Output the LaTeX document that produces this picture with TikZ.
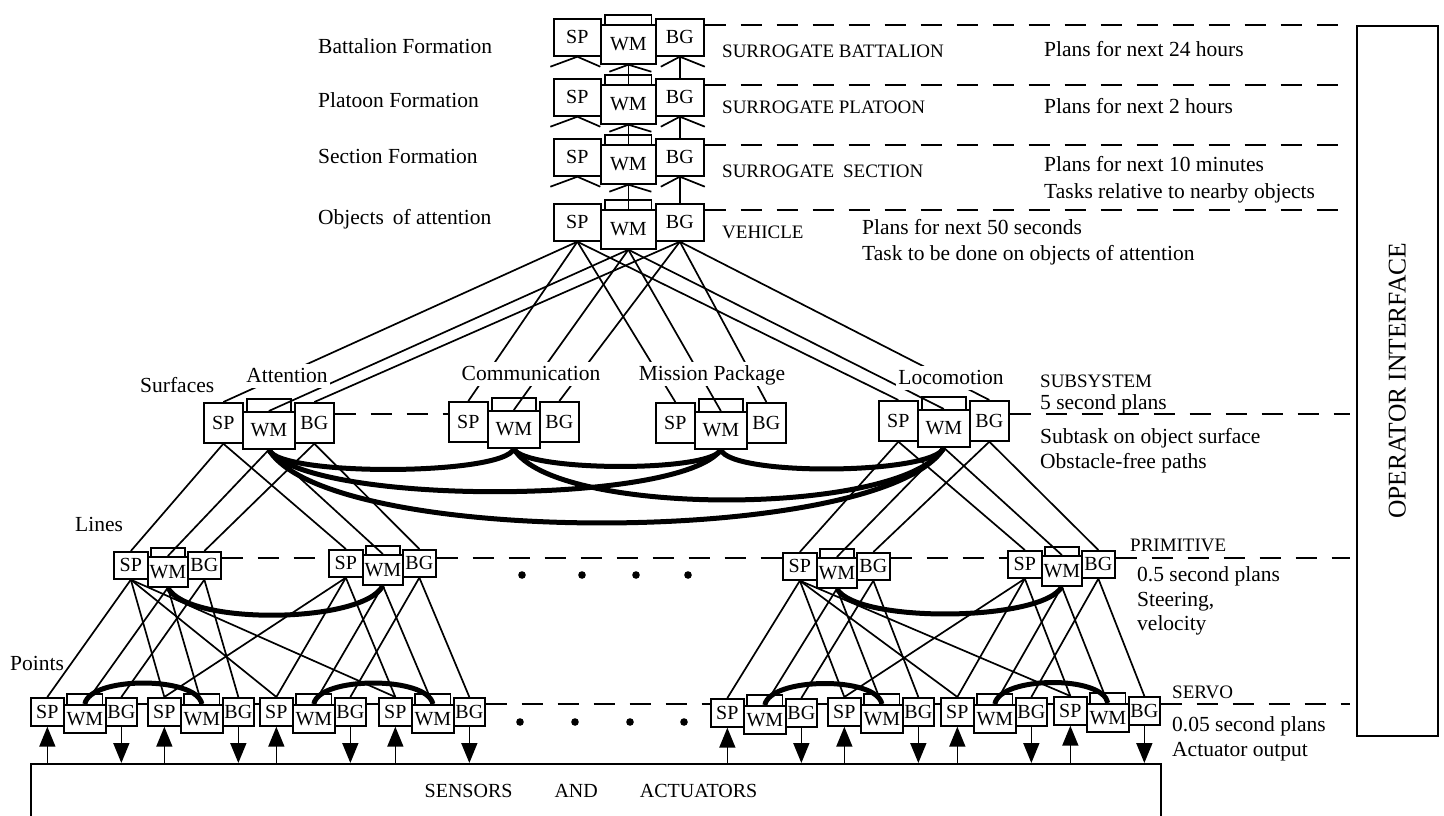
\documentclass[tikz,border=0pt]{standalone}
\usepackage{fontspec}
\setmainfont{Liberation Serif}
\usetikzlibrary{arrows.meta}
\pgfdeclarelayer{back}
\pgfdeclarelayer{front}
\pgfsetlayers{back,main,front}
% #1 name, #2 x, #3 y (top of SP), #4 SP width, #5 SP/BG height, #6 WM width, #7 WM offset, #8 WM height, #9 BG width
\newcommand{\rcsunit}[9]{%
  \begin{pgfonlayer}{back}
    \node[tabbox, minimum width={0.84*#6}, minimum height={#7+4}] (#1-tab) at ({#2+#4+0.08*#6},{#3-4}) {};
  \end{pgfonlayer}
  \begin{pgfonlayer}{front}
    \node[ubox, minimum width=#4, minimum height=#5] (#1-sp) at (#2,#3) {SP};
    \node[ubox, minimum width=#9, minimum height=#5] (#1-bg) at ({#2+#4+#6},#3) {BG};
    \node[ubox, minimum width=#6, minimum height=#8] (#1-wm) at ({#2+#4},{#3+#7}) {WM};
  \end{pgfonlayer}}
\begin{document}
\begin{tikzpicture}[x=1pt, y=-1pt,
  ubox/.style={draw, line width=1.7pt, fill=white, inner sep=0pt, anchor=north west, font=\fontsize{20}{20}\selectfont},
  tabbox/.style={draw, line width=1.7pt, fill=white, inner sep=0pt, anchor=north west},
  conn/.style={line width=1.7pt},
  thickarc/.style={line width=5pt},
  dashline/.style={line width=1.7pt, dash pattern=on 21pt off 15pt},
  lbl/.style={inner sep=0pt, anchor=west, font=\fontsize{21.5}{24}\selectfont, text height=16pt, text depth=4pt},
  caps/.style={inner sep=0pt, anchor=west, font=\fontsize{19}{21}\selectfont, text height=13pt, text depth=0pt},
  wlbl/.style={lbl, anchor=center, fill=white, inner sep=2pt},
  arr/.style={line width=1.7pt, -{Triangle[length=20pt,width=16pt]}}
]
\useasboundingbox (0,0) rectangle (1444,815);

% ---------- units ----------
\rcsunit{u1}{553}{18}{47}{37}{55}{6}{39}{48}
\rcsunit{u2}{553}{78}{47}{37}{55}{6}{39}{48}
\rcsunit{u3}{553}{138}{47}{37}{55}{6}{39}{48}
\rcsunit{u4}{553}{203}{47}{37}{55}{6}{39}{48}

\rcsunit{att}{203}{402}{39}{40}{52}{9}{37}{39}
\rcsunit{com}{448}{401}{39}{40}{52}{9}{37}{39}
\rcsunit{mp}{655}{402}{39}{40}{52}{9}{37}{39}
\rcsunit{loc}{878}{400}{39}{40}{52}{9}{37}{39}

\rcsunit{p1}{113}{551}{34}{27}{40}{5}{30}{33}
\rcsunit{p2}{328}{549}{34}{27}{40}{5}{30}{33}
\rcsunit{p3}{782}{552}{34}{27}{40}{5}{30}{33}
\rcsunit{p4}{1007}{550}{34}{27}{40}{5}{30}{33}

\rcsunit{s1}{30}{697}{33}{28}{42}{7}{28}{31}
\rcsunit{s2}{147}{697}{33}{28}{42}{7}{28}{31}
\rcsunit{s3}{259}{697}{33}{28}{42}{7}{28}{31}
\rcsunit{s4}{378}{697}{33}{28}{42}{7}{28}{31}
\rcsunit{s5}{710}{698}{33}{28}{42}{7}{28}{31}
\rcsunit{s6}{827}{697}{33}{28}{42}{7}{28}{31}
\rcsunit{s7}{940}{697}{33}{28}{42}{7}{28}{31}
\rcsunit{s8}{1053}{696}{33}{28}{42}{7}{28}{31}

% ---------- boxes ----------
\node[draw, line width=1.7pt, inner sep=0pt, anchor=north west, minimum width=81, minimum height=710] (oi) at (1356,25) {};
\node[rotate=90, font=\fontsize{25.5}{27}\selectfont, inner sep=0pt] (oitxt) at (oi.center) {OPERATOR INTERFACE};
\node[draw, line width=1.7pt, inner sep=0pt, anchor=north west, minimum width=1130, minimum height=60] (sens) at (30,763) {};
\node[font=\fontsize{20}{22}\selectfont, inner sep=0pt] (senstxt) at (591,791) {SENSORS\hspace{42pt}AND\hspace{42pt}ACTUATORS};

% ---------- dashed level lines ----------
\draw[dashline] (u1-bg.east |- 0,25) -- (1350,25);
\draw[dashline] (u2-bg.east |- 0,85) -- (1350,85);
\draw[dashline] (u3-bg.east |- 0,145) -- (1350,145);
\draw[dashline] (u4-bg.east |- 0,210) -- (1350,210);
\draw[dashline] (att-bg.east |- 0,414) -- (com-sp.west |- 0,414);
\draw[dashline] (loc-bg.east |- 0,414) -- (1350,414);
\draw[dashline] (p1-bg.east |- 0,558) -- (p2-sp.west |- 0,558);
\draw[dashline] (p2-bg.east |- 0,558) -- (p3-sp.west |- 0,558);
\draw[dashline] (p3-bg.east |- 0,558) -- (p4-sp.west |- 0,558);
\draw[dashline] (p4-bg.east |- 0,558) -- (1350,558);
\foreach \a/\b in {s1/s2,s2/s3,s3/s4,s4/s5,s5/s6,s6/s7,s7/s8}
  \draw[dashline] (\a-bg.east |- 0,704) -- (\b-sp.west |- 0,704);
\draw[dashline] (s8-bg.east |- 0,704) -- (1350,704);

% ---------- top chain ----------
\foreach \a/\b in {u1/u2,u2/u3,u3/u4} {
  \draw[conn] (\a-wm.south) -- (\b-wm.north);
  \draw[conn] (\a-bg.south) -- (\b-bg.north);
  \draw[conn] (\a-sp.south) -- ++(-27,10) (\a-sp.south) -- ++(23,10);
  \draw[conn] (\a-wm.south) -- ++(-19,7) (\a-wm.south) -- ++(23,7);
  \draw[conn] (\a-bg.south) -- ++(-19,10) (\a-bg.south) -- ++(25,10);
}

% ---------- vehicle to subsystems ----------
\foreach \s in {att,com,mp,loc} {
  \draw[conn] (u4-sp.south) -- (\s-sp.north);
  \draw[conn] (u4-wm.south) -- (\s-wm.north);
  \draw[conn] (u4-bg.south) -- (\s-bg.north);
}

% ---------- subsystems to primitives ----------
\foreach \s/\p in {att/p1,att/p2,loc/p3,loc/p4} {
  \draw[conn] (\s-sp.south) -- (\p-sp.north);
  \draw[conn] (\s-wm.south) -- (\p-wm.north);
  \draw[conn] (\s-bg.south) -- (\p-bg.north);
}

% ---------- primitives to servos ----------
\foreach \p/\s in {p1/s1,p1/s2,p1/s3,p1/s4,p2/s2,p2/s3,p2/s4,p3/s5,p3/s6,p3/s7,p3/s8,p4/s6,p4/s7,p4/s8}
  \draw[conn] (\p-sp.south) -- (\s-sp.north);
\foreach \p/\s in {p1/s1,p1/s2,p2/s3,p2/s4,p3/s5,p3/s6,p4/s7,p4/s8} {
  \draw[conn] (\p-wm.south) -- (\s-wm.north);
  \draw[conn] (\p-bg.south) -- (\s-bg.north);
}

% ---------- thick WM arcs ----------
\draw[thickarc] (att-wm.south) .. controls +(10,27) and +(-10,27) .. (com-wm.south);
\draw[thickarc] (com-wm.south) .. controls +(10,23) and +(-10,23) .. (mp-wm.south);
\draw[thickarc] (mp-wm.south) .. controls +(10,27) and +(-10,27) .. (loc-wm.south);
\draw[thickarc] (att-wm.south) .. controls +(40,56) and +(-40,56) .. (mp-wm.south);
\draw[thickarc] (com-wm.south) .. controls +(40,69) and +(-40,69) .. (loc-wm.south);
\draw[thickarc] (att-wm.south) .. controls +(60,99) and +(-60,99) .. (loc-wm.south);
\draw[thickarc] (p1-wm.south) .. controls +(20,38) and +(-20,38) .. (p2-wm.south);
\draw[thickarc] (p3-wm.south) .. controls +(20,35) and +(-20,35) .. (p4-wm.south);
\foreach \a/\b in {s1/s2,s3/s4,s5/s6,s7/s8}
  \draw[thickarc] (\a-wm.north) .. controls +(5,-28) and +(-5,-28) .. (\b-wm.north);

% ---------- servo arrows ----------
\foreach \s in {s1,s2,s3,s4,s5,s6,s7,s8} {
  \draw[arr] (\s-sp.south |- sens.north) -- (\s-sp.south);
  \draw[arr] (\s-bg.south) -- (\s-bg.south |- sens.north);
}

% ---------- ellipses ----------
\foreach \x in {522,582,636,688} \fill (\x,575) circle (3.8);
\foreach \x in {520,575,630,684} \fill (\x,722) circle (3.8);

% ---------- subsystem labels (mask lines) ----------
\node[wlbl] (latt) at (287,376) {Attention};
\node[wlbl] (lcom) at (531,374) {Communication};
\node[wlbl] (lmp) at (712,374) {Mission Package};
\node[wlbl] (lloc) at (951,378) {Locomotion};
\node[lbl] (lsurf) at (140,386) {Surfaces};
\node[lbl] (llines) at (75,525) {Lines};
\node[lbl] (lpoints) at (10,664) {Points};

% ---------- left level labels ----------
\node[lbl] (l1) at (318,47) {Battalion Formation};
\node[lbl] (l2) at (318,101) {Platoon Formation};
\node[lbl] (l3) at (318,157) {Section Formation};
\node[lbl] (l4) at (318,218) {Objects\hspace{9pt}of attention};

% ---------- right texts ----------
\node[caps] (c1) at (722,51) {SURROGATE BATTALION};
\node[caps] (c2) at (722,107) {SURROGATE PLATOON};
\node[caps] (c3) at (722,171) {SURROGATE\hspace{9pt}SECTION};
\node[caps] (c4) at (722,232) {VEHICLE};
\node[lbl] (r1) at (1044,50) {Plans for next 24 hours};
\node[lbl] (r2) at (1044,107) {Plans for next 2 hours};
\node[lbl] (r3) at (1044,165) {Plans for next 10 minutes};
\node[lbl] (r3b) at (1044,192) {Tasks relative to nearby objects};
\node[lbl] (r4) at (862,228) {Plans for next 50 seconds};
\node[lbl] (r4b) at (862,254) {Task to be done on objects of attention};
\node[caps] (c5) at (1040,381) {SUBSYSTEM};
\node[lbl] (r5) at (1040,403) {5 second plans};
\node[lbl] (r5b) at (1040,437) {Subtask on object surface};
\node[lbl] (r5c) at (1040,462) {Obstacle-free paths};
\node[caps] (c6) at (1130,545) {PRIMITIVE};
\node[lbl] (r6) at (1137,575) {0.5 second plans};
\node[lbl] (r6b) at (1137,600) {Steering,};
\node[lbl] (r6c) at (1137,624) {velocity};
\node[caps] (c7) at (1172,692) {SERVO};
\node[lbl] (r7) at (1172,725) {0.05 second plans};
\node[lbl] (r7b) at (1172,750) {Actuator output};
\end{tikzpicture}
\end{document}
